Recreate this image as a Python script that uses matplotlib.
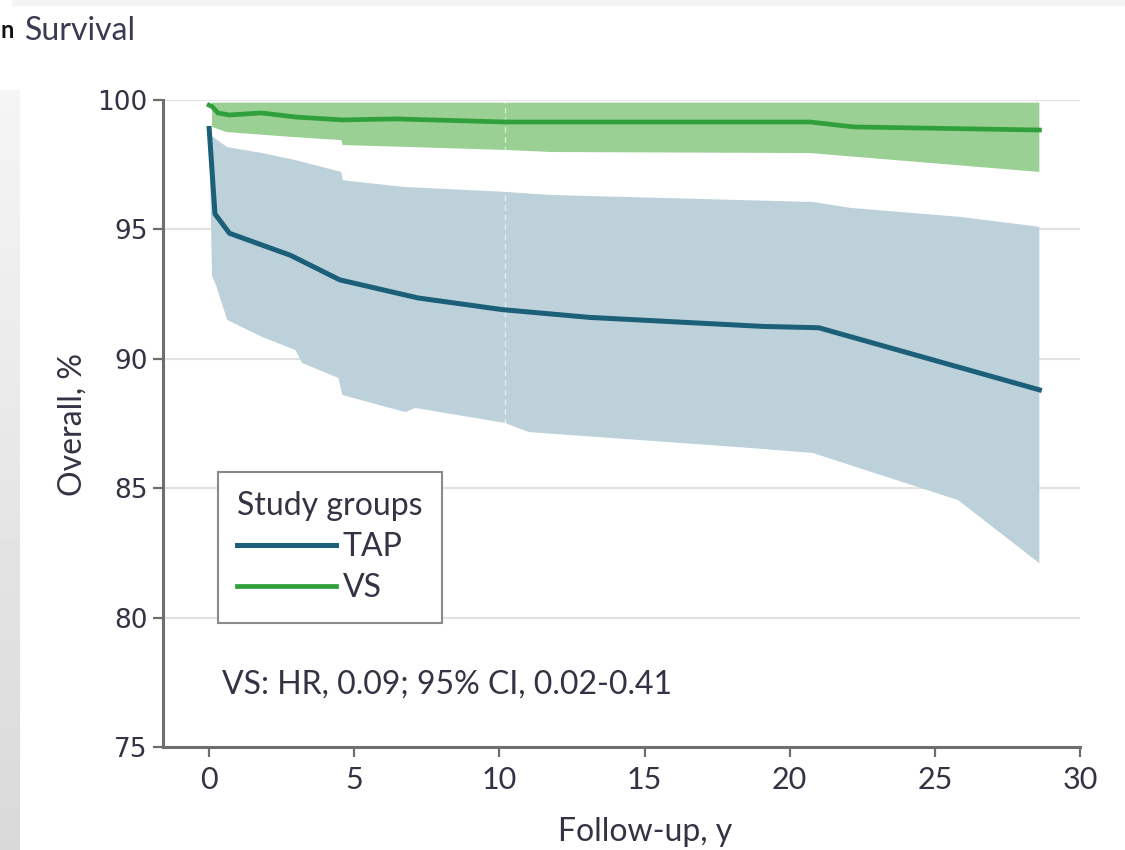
import numpy as np
import matplotlib
matplotlib.use("Agg")
import matplotlib.pyplot as plt
from matplotlib.patches import Rectangle

# --- data ---
tap_x = [0, 0.2, 0.7, 2.8, 4.5, 7.2, 10.1, 13.1, 19.1, 21.0, 28.6]
tap_y = [98.9, 95.6, 94.85, 94.0, 93.05, 92.35, 91.9, 91.6, 91.25, 91.2, 88.8]

tap_up_x = [0, 0.1, 0.62, 1.83, 2.97, 4.55, 4.6, 6.7, 10.2, 11.76, 20.8, 22.1, 25.9, 28.6]
tap_up_y = [98.9, 98.6, 98.18, 97.95, 97.68, 97.22, 96.9, 96.64, 96.45, 96.33, 96.06, 95.83, 95.48, 95.1]
tap_lo_x = [0, 0.1, 0.25, 0.62, 1.83, 2.97, 3.2, 4.45, 4.59, 6.76, 7.1, 10.2, 11.0, 18.7, 20.8, 25.8, 28.6]
tap_lo_y = [98.9, 93.2, 92.8, 91.5, 90.84, 90.34, 89.84, 89.26, 88.6, 87.94, 88.1, 87.52, 87.17, 86.55, 86.36, 84.54, 82.1]

vs_x = [0, 0.1, 0.3, 0.7, 1.8, 3.0, 4.6, 6.4, 10.2, 11.8, 20.7, 22.2, 28.6]
vs_y = [99.8, 99.75, 99.5, 99.42, 99.5, 99.34, 99.23, 99.27, 99.15, 99.15, 99.15, 98.96, 98.84]

vs_up_x = [0.1, 28.6]
vs_up_y = [99.9, 99.9]
vs_lo_x = [0.1, 0.6, 2.9, 4.55, 4.6, 6.4, 10.2, 11.8, 20.7, 28.6]
vs_lo_y = [98.96, 98.76, 98.57, 98.45, 98.26, 98.2, 98.07, 97.99, 97.95, 97.22]

xticks = [0, 5, 10, 15, 20, 25, 30]
yticks = [75, 80, 85, 90, 95, 100]

tap_color = "#1b5f78"
tap_fill = "#bdd1da"
vs_color = "#2fa03c"
vs_fill = "#9bd094"
text_color = "#333344"
font = ["Lato", "DejaVu Sans"]
fs = 23

fig = plt.figure(figsize=(11.25, 8.5), dpi=100)

# grey strip on the left edge and thin band on top
strip = fig.add_axes([0, 0, 20 / 1125, 760 / 850])
strip.imshow(np.linspace(0.96, 0.85, 100).reshape(-1, 1), cmap="gray",
             vmin=0, vmax=1, aspect="auto")
strip.axis("off")
fig.patches.append(Rectangle((12 / 1125, 1 - 5 / 850), 1, 5 / 850,
                             color="#f4f4f4", transform=fig.transFigure))

ax = fig.add_axes([163 / 1125, 1 - 747 / 850, 917 / 1125, 647 / 850])

ax.fill(np.r_[tap_up_x, tap_lo_x[::-1]], np.r_[tap_up_y, tap_lo_y[::-1]],
        color=tap_fill, lw=0, zorder=2)
ax.fill(np.r_[vs_up_x, vs_lo_x[::-1]], np.r_[vs_up_y, vs_lo_y[::-1]],
        color=vs_fill, lw=0, zorder=2)
ax.vlines(10.2, 87.5, 100, colors="white", linestyles=(0, (4, 3)), lw=1,
          alpha=0.6, zorder=3)
ax.plot(tap_x, tap_y, color=tap_color, lw=3.6, label="TAP", zorder=4,
        solid_joinstyle="round")
ax.plot(vs_x, vs_y, color=vs_color, lw=3.4, label="VS", zorder=4,
        solid_joinstyle="round")

ax.set_xlim(-1.59, 30)
ax.set_ylim(75, 100)
ax.set_xticks(xticks)
ax.set_yticks(yticks)
ax.grid(axis="y", color="#e2e2e2", lw=1.5, zorder=0)
ax.set_axisbelow(True)
for s in ["top", "right"]:
    ax.spines[s].set_visible(False)
for s in ["left", "bottom"]:
    ax.spines[s].set_color("#6e6e6e")
    ax.spines[s].set_linewidth(2.2)
ax.tick_params(axis="both", direction="out", length=7, width=1.6,
               color="#6e6e6e", labelcolor=text_color)
ax.tick_params(axis="y", labelsize=19, pad=4)
ax.tick_params(axis="x", labelsize=22, pad=7)
for lab in ax.get_xticklabels():
    lab.set_family(font)
for lab in ax.get_yticklabels():
    lab.set_family("DejaVu Sans")

leg = ax.legend(title="Study groups", loc="upper left",
                bbox_to_anchor=(0.06, 0.425), borderaxespad=0,
                fancybox=False, edgecolor="#8a8a8a", framealpha=1,
                handlelength=3.1, handletextpad=0.2, labelspacing=0.35,
                borderpad=0.6, prop={"family": font, "size": fs},
                title_fontproperties={"family": font, "size": fs})
leg.get_frame().set_linewidth(1.5)
leg._legend_box.align = "left"
leg._legend_box.sep = 8
for t in leg.get_texts():
    t.set_color(text_color)
leg.get_title().set_color(text_color)

ax.text(0.45, 77.4, "VS: HR, 0.09; 95% CI, 0.02-0.41", ha="left",
        va="center", fontsize=fs, family=font, color=text_color)

fig.text(73 / 1125, 1 - 425 / 850, "Overall, %", rotation=90, ha="center",
         va="center", fontsize=fs, family=font, color=text_color)
fig.text(645 / 1125, 1 - 832 / 850, "Follow-up, y", ha="center", va="center",
         fontsize=fs, family=font, color=text_color)
fig.text(25 / 1125, 1 - 31 / 850, "Survival", ha="left", va="center",
         fontsize=fs, family=font, color="#3a3a52")
fig.text(1 / 1125, 1 - 31 / 850, "n", ha="left", va="center",
         fontsize=17, family=font, weight="bold", color="#111111")

fig.savefig("out.png", dpi=100)
